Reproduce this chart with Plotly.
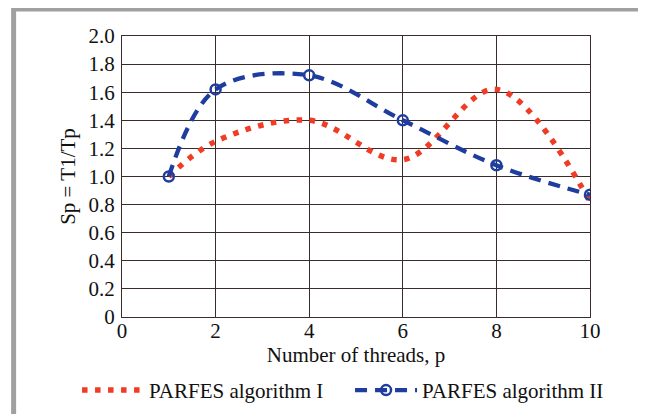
import plotly.graph_objects as go

threads = [1, 2, 4, 6, 8, 10]
alg1 = [1.00, 1.25, 1.40, 1.12, 1.62, 0.82]
alg2 = [1.00, 1.62, 1.72, 1.40, 1.08, 0.87]
names = ["PARFES algorithm I", "PARFES algorithm II"]
ytick_vals = [0, 0.2, 0.4, 0.6, 0.8, 1.0, 1.2, 1.4, 1.6, 1.8, 2.0]
ytick_text = ["0", "0.2", "0.4", "0.6", "0.8", "1.0", "1.2", "1.4", "1.6", "1.8", "2.0"]
xtick_vals = [0, 2, 4, 6, 8, 10]

FONT = "Liberation Serif, Times New Roman, serif"
GRID = "#3a2c2c"
RED = "#f03c24"
BLUE = "#1f3d9e"

fig = go.Figure()
fig.add_trace(go.Scatter(
    x=threads, y=alg1, name=names[0], mode="lines",
    line=dict(color=RED, width=5.5, dash="5.5px,7.5px", shape="spline", smoothing=1),
))
fig.add_trace(go.Scatter(
    x=threads, y=alg2, name=names[1], mode="lines+markers",
    line=dict(color=BLUE, width=4.3, dash="12px,8px", shape="spline", smoothing=1),
    marker=dict(symbol="circle-open", size=10, color=BLUE, line=dict(width=2.5, color=BLUE)),
))

# page body adds an 8px offset; work in window pixels and subtract it
OFF = 8
W, H = 646 - OFF, 414 - OFF
L, R, T, B = 122 - OFF, 55.5, 35.5 - OFF, 105 - OFF
pw, ph = W - L - R, H - T - B

def px_x(x):
    return (x - OFF - L) / pw

def px_y(y):
    return (H - B - (y - OFF)) / ph

fig.add_shape(type="rect", xref="paper", yref="paper",
              x0=px_x(13.5), x1=px_x(644), y0=px_y(440), y1=px_y(8.5),
              line=dict(color="#a0a0a0", width=5), layer="below")

fig.update_layout(
    width=W, height=H,
    margin=dict(l=L, r=R, t=T, b=B, autoexpand=False),
    paper_bgcolor="white", plot_bgcolor="white",
    font=dict(family=FONT, size=21, color="#111111"),
    showlegend=True,
    legend=dict(orientation="h", x=px_x(77), y=px_y(370), xanchor="left", yanchor="top",
                font=dict(family=FONT, size=21, color="#111111"),
                bgcolor="rgba(0,0,0,0)", itemwidth=62, entrywidth=196, tracegroupgap=0),
    xaxis=dict(range=[0, 10], tickvals=xtick_vals, showgrid=True, gridcolor=GRID, gridwidth=1.2,
               showline=True, linecolor=GRID, linewidth=1.2, mirror=True, zeroline=False,
               ticks="", ticklabelstandoff=-5,
               title=dict(text="Number of threads, p", standoff=5,
                          font=dict(family=FONT, size=21))),
    yaxis=dict(range=[0, 2.0], tickvals=ytick_vals, ticktext=ytick_text, showgrid=True,
               gridcolor=GRID, gridwidth=1.2, showline=True, linecolor=GRID, linewidth=1.2,
               mirror=True, zeroline=False, ticks="", ticklabelstandoff=2,
               title=dict(text="Sp = T1/Tp", standoff=7, font=dict(family=FONT, size=21))),
)

fig.write_html("out.html")
